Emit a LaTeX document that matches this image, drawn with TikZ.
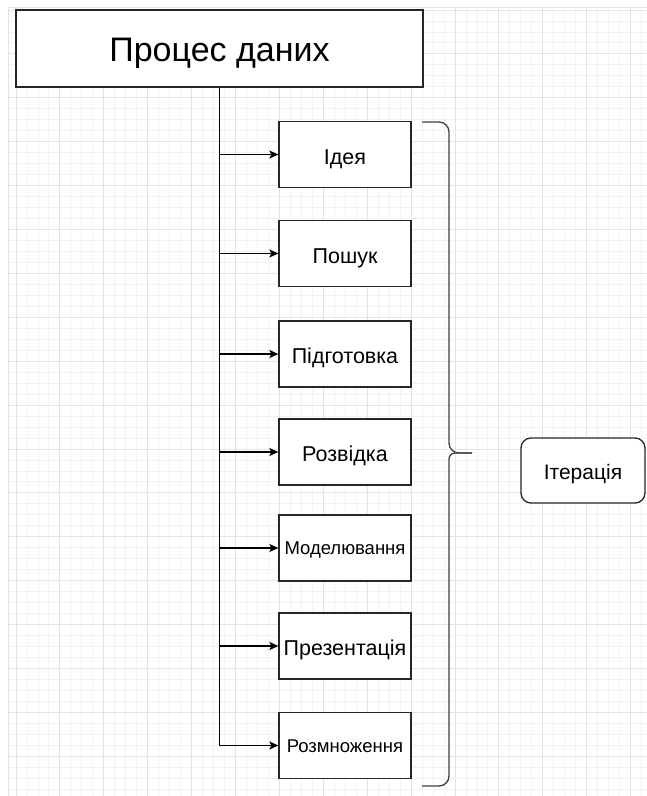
\documentclass[tikz,border=0pt]{standalone}
\usepackage{fontspec}
\setmainfont{Liberation Sans}
\usetikzlibrary{arrows.meta}

\tikzset{
  gridminor/.style={draw=black!5, line width=0.9pt},
  gridmajor/.style={draw=black!11, line width=1pt},
  stepbox/.style={draw=black!85, line width=1.3pt, fill=white,
    minimum width=132pt, minimum height=66pt, inner sep=0pt,
    font=\fontsize{21.5}{24}\selectfont, text height=19.4pt, text depth=0pt},
  smalltext/.style={font=\fontsize{18.5}{21}\selectfont, text height=13.2pt, text depth=0pt},
  headbox/.style={draw=black!85, line width=1.3pt, fill=white,
    minimum width=407pt, minimum height=77pt, inner sep=0pt,
    font=\fontsize{34}{38}\selectfont, text height=26pt, text depth=0pt},
  iterbox/.style={draw=black!85, line width=1.3pt, fill=white, rounded corners=10pt,
    minimum width=124pt, minimum height=65pt, inner sep=0pt,
    font=\fontsize{21}{24}\selectfont, text height=17pt, text depth=0pt},
  feed/.style={draw=black, line width=1.3pt, -{Stealth[length=9pt,width=8pt,inset=2pt]}},
  bracket/.style={draw=black!75, line width=1.3pt},
}

\begin{document}
\begin{tikzpicture}[x=1pt,y=-1pt]
\useasboundingbox[fill=white] (0,0) rectangle (647,796);

% background grid
\begin{scope}
  \clip (8,7) rectangle (647,796);
  \foreach \i in {0,...,58} {
    \draw[gridminor] ({16+10.975*(\i-1)},7) -- ({16+10.975*(\i-1)},796);
  }
  \foreach \i in {0,...,73} {
    \draw[gridminor] (8,{10+10.975*(\i-1)}) -- (647,{10+10.975*(\i-1)});
  }
  \foreach \i in {0,...,15} {
    \draw[gridmajor] ({16+43.9*\i},7) -- ({16+43.9*\i},796);
  }
  \foreach \i in {0,...,18} {
    \draw[gridmajor] (8,{10+43.9*\i}) -- (647,{10+43.9*\i});
  }
  \draw[gridmajor] (8,7) -- (647,7);
  \draw[gridmajor] (8,7) -- (8,796);
\end{scope}

% main process
\node[headbox] (proc) at (219.5,48.5) {Процес даних};

% stages
\node[stepbox] (s1) at (345,154.5) {Ідея};
\node[stepbox] (s2) at (345,253.5) {Пошук};
\node[stepbox] (s3) at (345,354) {Підготовка};
\node[stepbox] (s4) at (345,452) {Розвідка};
\node[stepbox, smalltext] (s5) at (345,548) {Моделювання};
\node[stepbox] (s6) at (345,646) {Презентація};
\node[stepbox, smalltext] (s7) at (345,745.5) {Розмноження};

% connectors from the process box to each stage
\foreach \s in {s1,s2,s3,s4,s5,s6,s7} {
  \draw[feed] (proc.south) |- (\s.west);
}

% curly bracket around the stages
\coordinate (bt) at (422,122);
\coordinate (bm) at (472,453);
\coordinate (bb) at (422,786);
\draw[bracket, rounded corners=10pt] (bt) -- (449,122) -- (449,453) [rounded corners=6pt] -- (bm);
\draw[bracket, rounded corners=6pt] (bm) -- (449,453) [rounded corners=10pt] -- (449,786) -- (bb);

% iteration label
\node[iterbox] (iter) at (583,470.5) {Ітерація};
\end{tikzpicture}
\end{document}
